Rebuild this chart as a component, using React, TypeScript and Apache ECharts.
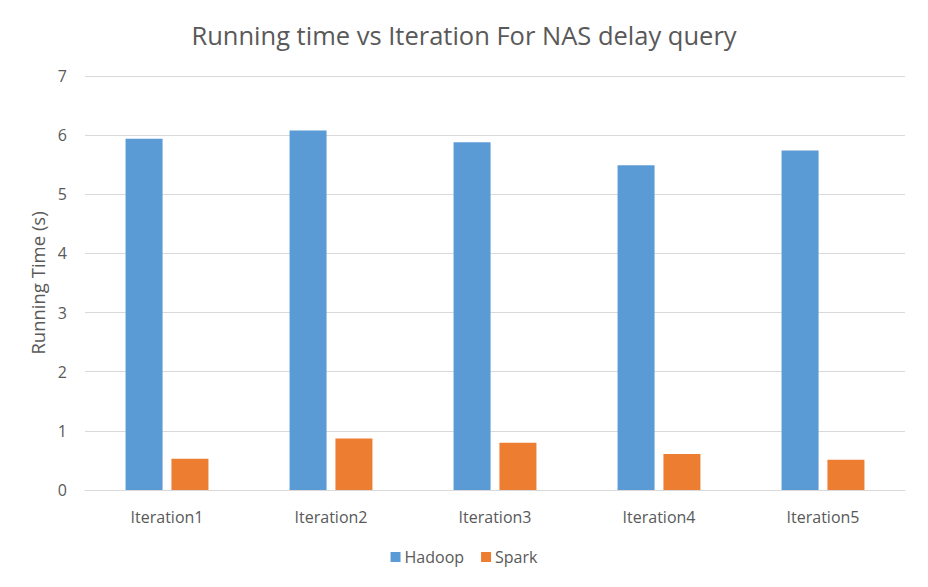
import React, { useEffect, useRef } from "react";
import * as echarts from "echarts";

const categories = ["Iteration1", "Iteration2", "Iteration3", "Iteration4", "Iteration5"];
const hadoop = [5.94, 6.08, 5.88, 5.49, 5.74];
const spark = [0.53, 0.87, 0.8, 0.61, 0.51];
const titleText = "Running time vs Iteration For NAS delay query";
const yAxisName = "Running Time (s)";

const FONT = "'Open Sans', 'Noto Sans', sans-serif";

export default function App() {
  const ref = useRef<HTMLDivElement>(null);
  useEffect(() => {
    if (!ref.current) return;
    const chart = echarts.init(ref.current, undefined, { renderer: "svg" });
    chart.setOption({
      animation: false,
      backgroundColor: "#ffffff",
      textStyle: { fontFamily: FONT },
      title: {
        text: titleText,
        left: "center",
        top: 17,
        textStyle: { fontFamily: FONT, fontSize: 25.5, fontWeight: "normal", color: "#595959" },
      },
      legend: {
        bottom: 17,
        left: "center",
        itemWidth: 10,
        itemHeight: 10,
        itemGap: 17,
        icon: "rect",
        textStyle: { fontFamily: FONT, fontSize: 16, color: "#595959", padding: [0, 0, 0, -1] },
        data: ["Hadoop", "Spark"],
      },
      grid: { left: 85, right: 23, top: 76, bottom: 97, containLabel: false },
      xAxis: {
        type: "category",
        data: categories,
        axisLine: { lineStyle: { color: "#d9d9d9", width: 1 } },
        axisTick: { show: false },
        axisLabel: { fontFamily: FONT, fontSize: 16, color: "#595959", margin: 19 },
      },
      yAxis: {
        type: "value",
        min: 0,
        max: 7,
        interval: 1,
        name: yAxisName,
        nameLocation: "middle",
        nameGap: 36,
        nameTextStyle: { fontFamily: FONT, fontSize: 18.5, color: "#595959" },
        axisLine: { show: false },
        axisTick: { show: false },
        axisLabel: { fontFamily: FONT, fontSize: 16, color: "#595959", margin: 18 },
        splitLine: { lineStyle: { color: "#d9d9d9", width: 1 } },
      },
      series: [
        {
          name: "Hadoop",
          type: "bar",
          data: hadoop,
          barWidth: 37,
          barGap: "24%",
          itemStyle: { color: "#5b9bd5" },
        },
        {
          name: "Spark",
          type: "bar",
          data: spark,
          barWidth: 37,
          barGap: "24%",
          itemStyle: { color: "#ed7d31" },
        },
      ],
    });
    return () => chart.dispose();
  }, []);
  return <div ref={ref} style={{ width: 928, height: 587, position: "absolute", left: 0, top: 0 }} />;
}
